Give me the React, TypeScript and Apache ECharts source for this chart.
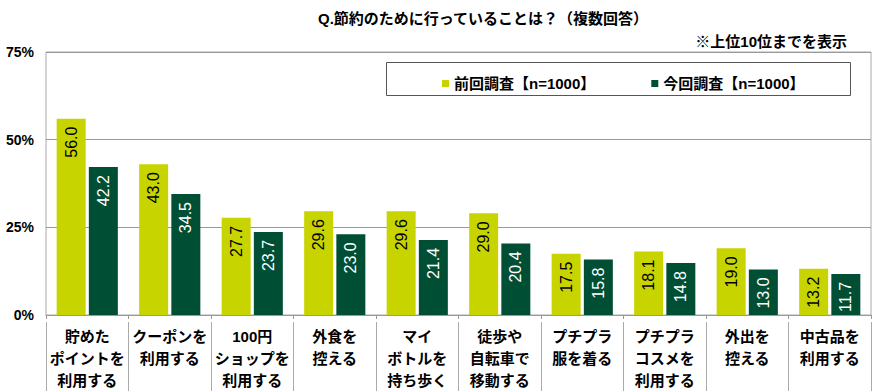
import React, { useEffect, useRef } from "react";
import * as echarts from "echarts";

const categories = [
  "貯めた\nポイントを\n利用する",
  "クーポンを\n利用する",
  "100円\nショップを\n利用する",
  "外食を\n控える",
  "マイ\nボトルを\n持ち歩く",
  "徒歩や\n自転車で\n移動する",
  "プチプラ\n服を着る",
  "プチプラ\nコスメを\n利用する",
  "外出を\n控える",
  "中古品を\n利用する",
];
const previousValues = [56.0, 43.0, 27.7, 29.6, 29.6, 29.0, 17.5, 18.1, 19.0, 13.2];
const currentValues = [42.2, 34.5, 23.7, 23.0, 21.4, 20.4, 15.8, 14.8, 13.0, 11.7];
const seriesNames = ["前回調査【n=1000】", "今回調査【n=1000】"];
const titleText = "Q.節約のために行っていることは？（複数回答）";
const noteText = "※上位10位までを表示";

const FONT = "'Liberation Sans', 'Noto Sans CJK JP', sans-serif";
const LIGHT = "#c8d400";
const DARK = "#004f34";

export default function App() {
  const ref = useRef<HTMLDivElement>(null);
  useEffect(() => {
    if (!ref.current) return;
    const chart = echarts.init(ref.current, null, { renderer: "svg" });
    const label = (color: string) => ({
      show: true,
      position: "insideTop",
      rotate: 90,
      align: "right",
      verticalAlign: "middle",
      distance: 8,
      color,
      fontFamily: "'Liberation Sans', sans-serif",
      fontSize: 16,
      formatter: (p: any) => Number(p.value).toFixed(1),
    });
    chart.setOption({
      animation: false,
      textStyle: { fontFamily: FONT },
      title: [
        {
          text: titleText,
          left: 313,
          top: 6,
          textStyle: { fontFamily: FONT, fontSize: 15, fontWeight: "bold", color: "#000" },
        },
        {
          text: noteText,
          right: 28,
          top: 29,
          textStyle: { fontFamily: FONT, fontSize: 15, fontWeight: "bold", color: "#000" },
        },
      ],
      graphic: [
        {
          type: "rect",
          left: 386,
          top: 62,
          shape: { width: 464, height: 33 },
          style: { fill: "#fff", stroke: "#555", lineWidth: 1 },
          z: 10,
        },
      ],
      legend: {
        left: 437,
        top: 71,
        itemWidth: 7,
        itemHeight: 7,
        itemGap: 56,
        icon: "rect",
        z: 20,
        textStyle: { fontFamily: FONT, fontSize: 15, fontWeight: "bold", color: "#000" },
        data: seriesNames,
      },
      grid: {
        left: 46,
        right: 9,
        top: 52,
        bottom: 76,
        show: true,
        borderColor: "#aaa",
        borderWidth: 1,
      },
      xAxis: [
        {
          type: "category",
          data: categories,
          axisLine: { lineStyle: { color: "#999" } },
          axisTick: { show: true, length: 4, interval: 0, lineStyle: { color: "#999" } },
          axisLabel: {
            interval: 0,
            margin: 10,
            fontFamily: FONT,
            fontSize: 15,
            fontWeight: "bold",
            lineHeight: 22,
            color: "#000",
          },
        },
        {
          type: "category",
          data: categories,
          position: "bottom",
          offset: 7,
          axisLine: { show: false },
          axisTick: { show: true, length: 70, interval: 0, lineStyle: { color: "#aaa" } },
          axisLabel: { show: false },
        },
      ],
      yAxis: {
        type: "value",
        min: 0,
        max: 75,
        interval: 25,
        axisLine: { show: false },
        axisTick: { show: false },
        splitLine: { lineStyle: { color: "#999" } },
        axisLabel: {
          formatter: "{value}%",
          margin: 12,
          fontFamily: "'Liberation Sans', sans-serif",
          fontSize: 14,
          fontWeight: "bold",
          color: "#000",
        },
      },
      series: [
        {
          name: seriesNames[0],
          type: "bar",
          data: previousValues,
          itemStyle: { color: LIGHT },
          barWidth: 29,
          barGap: "11%",
          label: label("#000"),
        },
        {
          name: seriesNames[1],
          type: "bar",
          data: currentValues,
          itemStyle: { color: DARK },
          barWidth: 29,
          barGap: "11%",
          label: label("#fff"),
        },
      ],
    });
    return () => chart.dispose();
  }, []);
  return (
    <div
      ref={ref}
      style={{ position: "absolute", left: 0, top: 0, width: 880, height: 391, background: "#fff" }}
    />
  );
}
